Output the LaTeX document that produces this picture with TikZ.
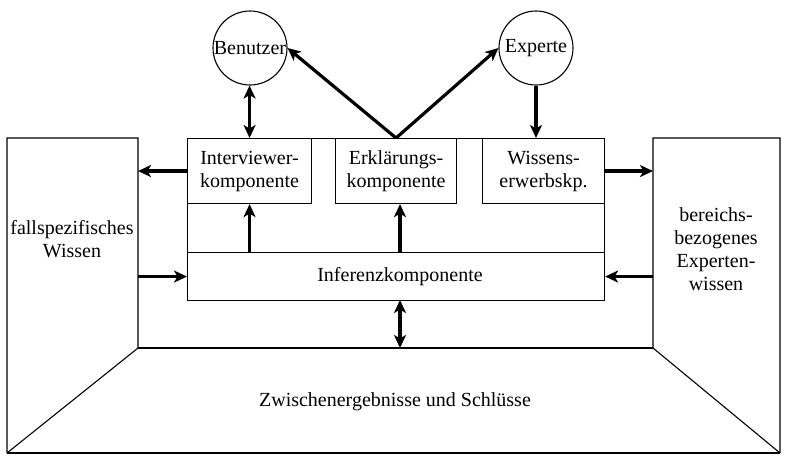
\documentclass[tikz,border=0pt]{standalone}
\usepackage{fontspec}
\setmainfont{Liberation Serif}
\usetikzlibrary{arrows.meta,calc}
\begin{document}
\begin{tikzpicture}[x=1pt,y=-1pt,
  thin line/.style={line width=1.1pt},
  tip/.tip={Stealth[length=13pt,width=12pt,inset=3.5pt]},
  arr/.style={line width=3.2pt,-tip},
  darr/.style={line width=3.2pt,tip-tip},
  txt/.style={font=\rmfamily\fontsize{20}{23}\selectfont, align=center, inner sep=0pt},
  boxc/.style={draw, line width=1.1pt, anchor=north west, inner sep=0pt, font=\rmfamily\fontsize{20}{23}\selectfont, align=center},
  circ/.style={draw, circle, line width=1.1pt, inner sep=0pt, minimum size=74pt}
]
\useasboundingbox (0,0) rectangle (785,456);
% panels and floor
\coordinate (lpr) at (138,138);
\coordinate (rpl) at (653,138);
\coordinate (bl) at (138,348);
\draw[thin line] (7,453) -- (7,138) -- (138,138) -- (138,348) -- (7,453);
\draw[thin line] (780,453) -- (780,138) -- (653,138) -- (653,348) -- (780,453);
\draw[thin line] (138,348) -- (653,348);
\draw[thin line] (7,453) -- (780,453);
% container
\node[boxc, minimum width=417pt, minimum height=162pt] (cont) at (187,138) {};
\node[boxc, minimum width=417pt, minimum height=48pt] (inf) at (187,252) {};
\node[txt] (inftxt) at ([xshift=4pt]inf.center) {Inferenzkomponente};
\node[boxc, minimum width=124pt, minimum height=65pt] (ivw) at (187,138) {Interviewer-\\komponente};
\node[boxc, minimum width=121pt, minimum height=65pt] (erk) at (335,138) {Erklärungs-\\komponente};
\node[boxc, minimum width=122pt, minimum height=65pt] (wis) at (482,138) {Wissens-\\erwerbskp.};
\coordinate (mid) at (400,300);
% circles
\node[circ, label={[txt]center:Benutzer}] (ben) at (250,48) {};
\node[circ, label={[txt]center:Experte}] (exp) at (536,48) {};
% panel texts
\node[txt] (fall) at (72,239) {fallspezifisches\\Wissen};
\node[txt] (ber) at (716,249) {bereichs-\\bezogenes\\Experten-\\wissen};
\node[txt] (zw) at (395,402) {Zwischenergebnisse und Schlüsse};
% arrows
\draw[darr] (ben.south -| ivw.north) -- (ivw.north);
\draw[arr] (exp.south) -- (exp.south |- wis.north);
\draw[arr] (erk.north) -- (ben.east);
\draw[arr] (erk.north) -- (exp.west);
\draw[arr] (inf.north -| ivw.south) -- (ivw.south);
\draw[arr] (inf.north -| mid) -- (erk.south -| mid);
\draw[arr] (ivw.west) -- (ivw.west -| lpr);
\draw[arr] (inf.west -| lpr) -- (inf.west);
\draw[arr] (wis.east) -- (wis.east -| rpl);
\draw[arr] (inf.east -| rpl) -- (inf.east);
\draw[darr] (mid) -- (mid |- bl);
\end{tikzpicture}
\end{document}
